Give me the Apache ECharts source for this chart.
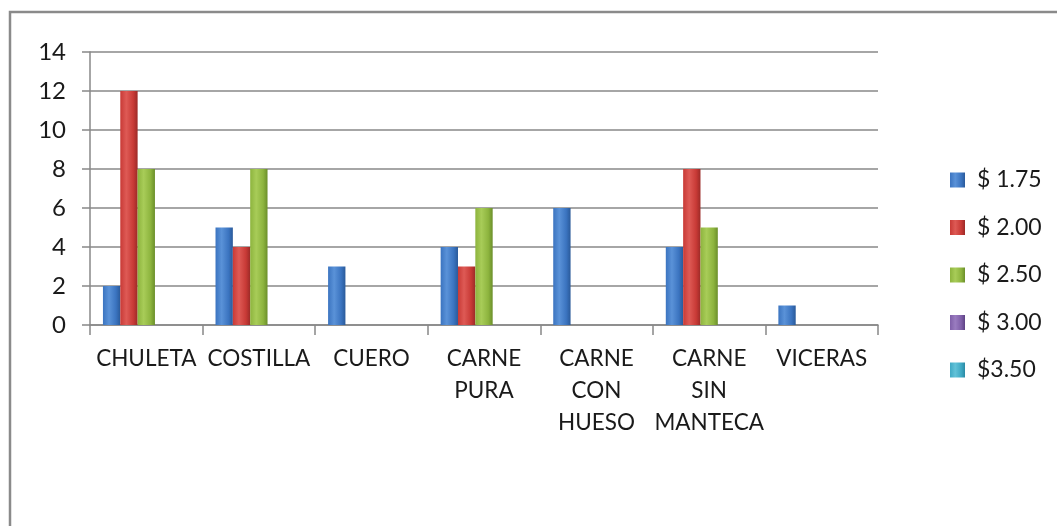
<!DOCTYPE html>
<html>
<head>
<meta charset="utf-8">
<script src="https://cdn.jsdelivr.net/npm/echarts@6/dist/echarts.min.js"></script>
<style>
  html, body { margin: 0; padding: 0; background: #ffffff; }
  #chart { width: 1057px; height: 526px; }
</style>
</head>
<body>
<div id="chart"></div>
<script>
const categories = ['CHULETA', 'COSTILLA', 'CUERO', 'CARNE\nPURA', 'CARNE\nCON\nHUESO', 'CARNE\nSIN\nMANTECA', 'VICERAS'];
const seriesNames = ['$ 1.75', '$ 2.00', '$ 2.50', '$ 3.00', '$3.50'];
const price175 = [2, 5, 3, 4, 6, 4, 1];
const price200 = [12, 4, 0, 3, 0, 8, 0];
const price250 = [8, 8, 0, 6, 0, 5, 0];
const price300 = [0, 0, 0, 0, 0, 0, 0];
const price350 = [0, 0, 0, 0, 0, 0, 0];
const yTicks = [0, 2, 4, 6, 8, 10, 12, 14];

const palette = [
  { dark: '#2a5a9a', mid: '#3b74c0', light: '#5a92d8' },
  { dark: '#9c2a27', mid: '#c83a36', light: '#de5a55' },
  { dark: '#6b8f2a', mid: '#8db43e', light: '#a8cc58' },
  { dark: '#5d4284', mid: '#7f5fa8', light: '#9a7cc0' },
  { dark: '#2a8aa4', mid: '#3fa9c4', light: '#62c2d8' }
];
function grad(p) {
  return new echarts.graphic.LinearGradient(0, 0, 1, 0, [
    { offset: 0, color: p.mid },
    { offset: 0.35, color: p.light },
    { offset: 0.75, color: p.mid },
    { offset: 1, color: p.dark }
  ]);
}

const allData = [price175, price200, price250, price300, price350];
const FONT = 'Lato';

const chart = echarts.init(document.getElementById('chart'), null, { renderer: 'canvas' });
chart.setOption({
  animation: false,
  backgroundColor: '#ffffff',
  textStyle: { fontFamily: FONT, color: '#1a1a1a' },
  graphic: [{
    type: 'rect',
    shape: { x: 10, y: 12, width: 1100, height: 600 },
    style: { fill: 'none', stroke: '#8a8a8a', lineWidth: 2.5 },
    silent: true
  }],
  grid: { left: 90, right: 179, top: 52, bottom: 201 },
  legend: {
    orient: 'vertical',
    left: 945,
    top: 163,
    itemWidth: 15,
    itemHeight: 15,
    itemGap: 23.5,
    icon: 'rect',
    data: seriesNames,
    textStyle: { fontFamily: FONT, fontSize: 23, color: '#1a1a1a', lineHeight: 24, padding: [0, 0, 0, 7] }
  },
  xAxis: {
    type: 'category',
    data: categories,
    axisLine: { lineStyle: { color: '#888888', width: 1.5 } },
    axisTick: { show: true, length: 10, alignWithLabel: false, lineStyle: { color: '#888888', width: 1.5 } },
    axisLabel: { interval: 0, fontFamily: FONT, fontSize: 22.5, lineHeight: 32, color: '#1a1a1a', margin: 18 },
    splitLine: { show: false }
  },
  yAxis: {
    type: 'value',
    min: 0,
    max: yTicks[yTicks.length - 1],
    interval: 2,
    axisLine: { show: true, lineStyle: { color: '#888888', width: 1.5 } },
    axisTick: { show: true, length: 8, lineStyle: { color: '#888888', width: 1.5 } },
    axisLabel: { fontFamily: FONT, fontSize: 24, color: '#1a1a1a', margin: 24 },
    splitLine: { show: true, lineStyle: { color: '#888888', width: 1.5 } }
  },
  series: seriesNames.map((name, i) => ({
    name: name,
    type: 'bar',
    data: allData[i],
    barGap: '0%',
    barCategoryGap: '23%',
    itemStyle: { color: grad(palette[i]), borderWidth: 0 },
    emphasis: { disabled: true }
  })),
  color: palette.map(p => p.mid)
});
</script>
</body>
</html>
